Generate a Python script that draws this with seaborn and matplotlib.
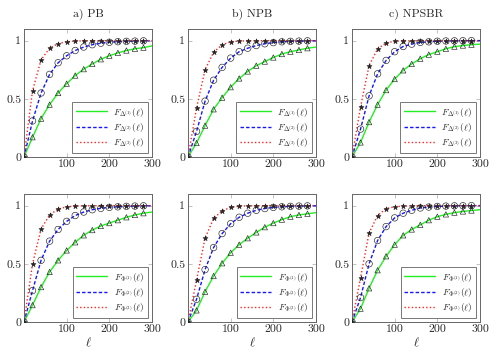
import matplotlib
matplotlib.use('Agg')
import matplotlib.pyplot as plt
import numpy as np
import pandas as pd
import seaborn as sns

# ── Data ─────────────────────────────────────────────────────────────────────
ELL = [0, 20, 40, 60, 80, 100, 120, 140, 160, 180, 200, 220, 240, 260, 280, 300]
N_MARK = 15  # markers drawn at ell = 0 .. 280

TITLES = ['a) PB', 'b) NPB', 'c) NPSBR']

# top row: F_Delta
PB_D1 = [0, 0.17, 0.33, 0.45, 0.55, 0.63, 0.70, 0.755, 0.80, 0.84, 0.87, 0.895, 0.915, 0.93, 0.94, 0.955]
PB_D2 = [0, 0.31, 0.55, 0.71, 0.81, 0.87, 0.915, 0.945, 0.965, 0.978, 0.986, 0.991, 0.994, 0.996, 0.998, 0.999]
PB_D3 = [0, 0.57, 0.835, 0.935, 0.975, 0.99, 0.996, 0.998, 0.999, 1, 1, 1, 1, 1, 1, 1]

NPB_D1 = [0, 0.12, 0.27, 0.41, 0.51, 0.60, 0.675, 0.735, 0.785, 0.82, 0.855, 0.885, 0.905, 0.92, 0.935, 0.945]
NPB_D2 = [0, 0.22, 0.48, 0.66, 0.77, 0.85, 0.905, 0.935, 0.958, 0.973, 0.983, 0.99, 0.994, 0.996, 0.998, 0.999]
NPB_D3 = [0, 0.42, 0.75, 0.90, 0.965, 0.99, 0.996, 0.998, 0.999, 1, 1, 1, 1, 1, 1, 1]

NPSBR_D1 = [0, 0.125, 0.30, 0.45, 0.575, 0.67, 0.745, 0.80, 0.845, 0.88, 0.905, 0.93, 0.948, 0.958, 0.965, 0.97]
NPSBR_D2 = [0, 0.24, 0.525, 0.715, 0.83, 0.905, 0.95, 0.97, 0.985, 0.99, 0.995, 0.997, 0.998, 0.999, 1, 1]
NPSBR_D3 = [0, 0.43, 0.785, 0.93, 0.98, 0.995, 0.998, 0.999, 1, 1, 1, 1, 1, 1, 1, 1]

# bottom row: F_Phi
PB_P1 = [0, 0.145, 0.30, 0.43, 0.53, 0.615, 0.685, 0.745, 0.79, 0.825, 0.85, 0.875, 0.90, 0.92, 0.935, 0.945]
PB_P2 = [0, 0.27, 0.53, 0.695, 0.795, 0.865, 0.915, 0.945, 0.965, 0.977, 0.985, 0.99, 0.994, 0.996, 0.998, 0.999]
PB_P3 = [0, 0.50, 0.80, 0.92, 0.97, 0.99, 0.996, 0.998, 0.999, 1, 1, 1, 1, 1, 1, 1]

NPB_P1 = [0, 0.10, 0.26, 0.395, 0.505, 0.595, 0.665, 0.72, 0.77, 0.815, 0.85, 0.88, 0.905, 0.92, 0.93, 0.94]
NPB_P2 = [0, 0.195, 0.45, 0.64, 0.76, 0.845, 0.90, 0.935, 0.96, 0.975, 0.985, 0.99, 0.994, 0.996, 0.998, 0.999]
NPB_P3 = [0, 0.36, 0.72, 0.89, 0.955, 0.985, 0.995, 0.998, 0.999, 1, 1, 1, 1, 1, 1, 1]

NPSBR_P1 = [0, 0.115, 0.29, 0.445, 0.565, 0.665, 0.745, 0.795, 0.835, 0.875, 0.905, 0.925, 0.94, 0.95, 0.958, 0.965]
NPSBR_P2 = [0, 0.21, 0.50, 0.70, 0.82, 0.895, 0.935, 0.96, 0.98, 0.988, 0.993, 0.996, 0.998, 0.999, 1, 1]
NPSBR_P3 = [0, 0.38, 0.765, 0.915, 0.975, 0.99, 0.996, 0.998, 0.999, 1, 1, 1, 1, 1, 1, 1]

ROWS = [
    [(PB_D1, PB_D2, PB_D3), (NPB_D1, NPB_D2, NPB_D3), (NPSBR_D1, NPSBR_D2, NPSBR_D3)],
    [(PB_P1, PB_P2, PB_P3), (NPB_P1, NPB_P2, NPB_P3), (NPSBR_P1, NPSBR_P2, NPSBR_P3)],
]
SYMBOLS = [r'\Delta', r'\Phi']

# ── Styles ───────────────────────────────────────────────────────────────────
COLORS = ['#22ee22', '#1515ff', '#ff2222']
DASHES = ['-', (0, (2.5, 1.5)), (0, (1, 1.6))]
MARKERS = ['^', 'o', '*']
MSIZE = [15, 22, 14]
MFACE = ['none', 'none', '#222222']

sns.set_style('white')
plt.rcParams['font.family'] = ['cmr10', 'DejaVu Serif']
plt.rcParams['mathtext.fontset'] = 'cm'
plt.rcParams['axes.unicode_minus'] = False

fig = plt.figure(figsize=(4.94, 3.55), dpi=100)

lefts = [24 / 494, 188 / 494, 352 / 494]
bottoms = [1 - 157 / 355, 1 - 322 / 355]
W = 128 / 494
H = 128 / 355

for r, row in enumerate(ROWS):
    for c, series in enumerate(row):
        ax = fig.add_axes([lefts[c], bottoms[r], W, H])
        for i, vals in enumerate(series):
            df = pd.DataFrame({'ell': ELL, 'F': vals})
            label = rf'$F_{{{SYMBOLS[r]}^{{({i + 1})}}}}(\ell)$'
            sns.lineplot(data=df, x='ell', y='F', ax=ax, color=COLORS[i],
                         linestyle=DASHES[i], linewidth=1.0, label=label)
        for i, vals in enumerate(series):
            dm = pd.DataFrame({'ell': ELL[:N_MARK], 'F': vals[:N_MARK]})
            sns.scatterplot(data=dm, x='ell', y='F', ax=ax, marker=MARKERS[i],
                            s=MSIZE[i], facecolor=MFACE[i], edgecolor='#222222',
                            linewidth=0.45, zorder=5, legend=False)
        ax.set_xlim(0, 300)
        ax.set_ylim(0, 1.1)
        ax.set_xticks([100, 200, 300])
        ax.set_xticklabels(['100', '200', '300'])
        ax.set_yticks([0, 0.5, 1])
        ax.set_yticklabels(['0', '0.5', '1'])
        ax.tick_params(direction='in', length=3, width=0.5, color='#aaaaaa',
                       labelsize=8.5, pad=2, right=True, top=True, bottom=True, left=True)
        for s in ax.spines.values():
            s.set_color('#666666')
            s.set_linewidth(0.7)
        ax.set_ylabel('')
        ax.set_xlabel(r'$\ell$' if r == 1 else '', fontsize=9, labelpad=1)
        if r == 0:
            ax.set_title(TITLES[c], fontsize=8.5, pad=9)
        leg = ax.legend(loc='lower right', fontsize=6.8, frameon=True, fancybox=False,
                        handlelength=3.3, handletextpad=0.7, borderaxespad=0.45,
                        labelspacing=0.25, borderpad=0.35)
        leg.get_frame().set_edgecolor('#555555')
        leg.get_frame().set_linewidth(0.7)

fig.savefig('out.png', dpi=100)
